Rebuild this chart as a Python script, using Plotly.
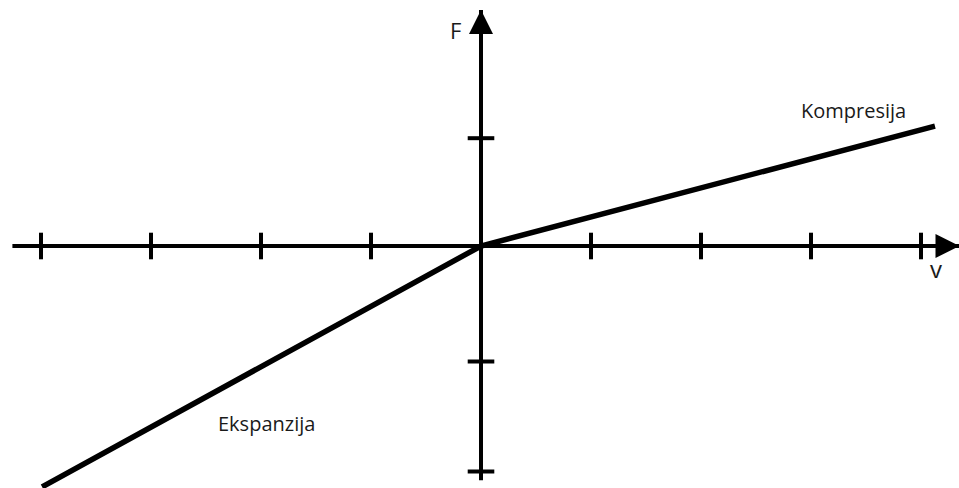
import plotly.graph_objects as go

# curve: force F vs velocity v (units = tick spacing)
v_values = [-3.99, 0.0, 4.127]
F_values = [-2.19, 0.0, 1.09]

x_ticks = [-4, -3, -2, -1, 1, 2, 3, 4]
y_ticks = [0.98, -1.05, -2.05]

x_axis_extent = [-4.26, 4.35]
y_axis_extent = [-2.13, 2.145]

x_range = [-481 / 110, 478 / 110]
y_range = [-242 / 110, 246 / 110]

fig = go.Figure()

# axis lines
fig.add_trace(go.Scatter(x=x_axis_extent, y=[0, 0], mode="lines",
                         line=dict(color="black", width=4), hoverinfo="skip"))
fig.add_trace(go.Scatter(x=[0, 0], y=y_axis_extent, mode="lines",
                         line=dict(color="black", width=4), hoverinfo="skip"))

# arrowheads
fig.add_annotation(x=x_axis_extent[1], y=0, ax=x_axis_extent[1] - 0.2, ay=0,
                   xref="x", yref="y", axref="x", ayref="y", showarrow=True,
                   arrowhead=2, arrowsize=1.2, arrowwidth=4, arrowcolor="black", text="")
fig.add_annotation(x=0, y=y_axis_extent[1], ax=0, ay=y_axis_extent[1] - 0.2,
                   xref="x", yref="y", axref="x", ayref="y", showarrow=True,
                   arrowhead=2, arrowsize=1.2, arrowwidth=4, arrowcolor="black", text="")

# ticks
fig.add_trace(go.Scatter(x=x_ticks, y=[0] * len(x_ticks), mode="markers",
                         marker=dict(symbol="line-ns", size=19,
                                     line=dict(color="black", width=4)),
                         hoverinfo="skip"))
fig.add_trace(go.Scatter(x=[0] * len(y_ticks), y=y_ticks, mode="markers",
                         marker=dict(symbol="line-ew", size=19,
                                     line=dict(color="black", width=4)),
                         hoverinfo="skip"))

# curve
fig.add_trace(go.Scatter(x=v_values, y=F_values, mode="lines",
                         line=dict(color="black", width=5.5), hoverinfo="skip"))

font = dict(family="Open Sans", color="#1a1a1a")
fig.add_annotation(x=(455 - 481) / 110, y=(246 - 30) / 110, text="F", showarrow=False,
                   font=dict(size=22, **font))
fig.add_annotation(x=(936 - 481) / 110, y=(246 - 268) / 110, text="v", showarrow=False,
                   font=dict(size=24, **font))
fig.add_annotation(x=(853 - 481) / 110, y=(246 - 110) / 110, text="Kompresija",
                   showarrow=False, font=dict(size=20, **font))
fig.add_annotation(x=(266 - 481) / 110, y=(246 - 423) / 110, text="Ekspanzija",
                   showarrow=False, font=dict(size=20, **font))

fig.update_layout(
    width=959, height=488,
    margin=dict(l=0, r=0, t=0, b=0),
    paper_bgcolor="white", plot_bgcolor="white",
    showlegend=False,
    xaxis=dict(range=x_range, visible=False, fixedrange=True),
    yaxis=dict(range=y_range, visible=False, fixedrange=True),
)

fig.write_html("out.html", config={"displayModeBar": False},
               post_script="document.body.style.margin='0';document.body.style.overflow='hidden';")
